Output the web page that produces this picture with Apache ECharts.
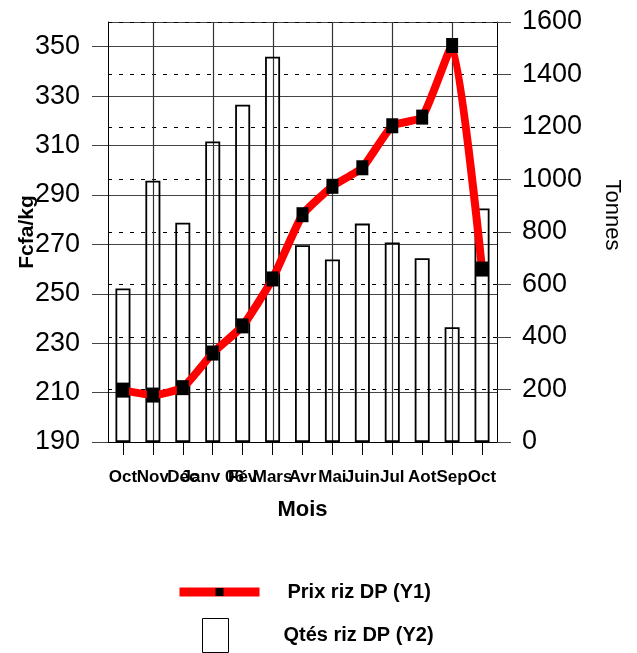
<!DOCTYPE html>
<html>
<head>
<meta charset="utf-8">
<script src="https://cdn.jsdelivr.net/npm/echarts@6/dist/echarts.min.js"></script>
<style>
  html, body { margin: 0; padding: 0; background: #fff; }
  #chart { width: 637px; height: 653px; }
</style>
</head>
<body>
<div id="chart"></div>
<script>
// Monthly rice prices (Fcfa/kg) and quantities (tonnes)
const months = ['Oct', 'Nov', 'Déc', 'Janv 06', 'Fév', 'Mars', 'Avr', 'Mai', 'Juin', 'Jul', 'Aot', 'Sep', 'Oct'];
const prixRiz = [211, 209, 212, 226, 237, 256, 282, 293.5, 301, 318, 321.5, 350.5, 260];
const qtesRiz = [585, 995, 835, 1145, 1285, 1468, 750, 695, 832, 760, 700, 437, 890];
const leftTicks = { min: 190, max: 360, step: 20 };
const rightTicks = { min: 0, max: 1600, step: 200 };
// vertical grid lines sit on every second month (category indices)
const gridMonthIdx = [1, 3, 5, 7, 9, 11];

const FONT = '"Liberation Sans", Arial, sans-serif';

const chart = echarts.init(document.getElementById('chart'), null, { renderer: 'canvas' });

chart.setOption({
  animation: false,
  backgroundColor: '#fff',
  textStyle: { fontFamily: FONT, color: '#000' },
  grid: { left: 108, right: 140, top: 22, bottom: 211, containLabel: false, outerBoundsMode: 'none' },
  legend: [
    {
      data: ['Prix riz DP (Y1)'],
      left: 175, top: 582, padding: 0,
      itemWidth: 80, itemHeight: 10,
      lineStyle: { width: 9, color: '#ff0000' },
      textStyle: { fontFamily: FONT, fontWeight: 'bold', fontSize: 20, color: '#000', padding: [0, 0, 0, 23] }
    },
    {
      data: [{ name: 'Qtés riz DP (Y2)', icon: 'rect' }],
      left: 202, top: 618, padding: 0,
      itemWidth: 26, itemHeight: 34,
      itemStyle: { color: 'rgba(0,0,0,0)', borderColor: '#000', borderWidth: 1 },
      textStyle: { fontFamily: FONT, fontWeight: 'bold', fontSize: 20, color: '#000', padding: [0, 0, 0, 50] }
    }
  ],
  xAxis: {
    type: 'category',
    data: months,
    boundaryGap: true,
    name: 'Mois',
    nameLocation: 'middle',
    nameGap: 57,
    nameMoveOverlap: false,
    nameTextStyle: { fontFamily: FONT, fontWeight: 'bold', fontSize: 22, color: '#000' },
    axisLine: { show: true, lineStyle: { color: '#000', width: 1 } },
    axisTick: { show: true, alignWithLabel: true, length: 13, lineStyle: { color: '#000' } },
    axisLabel: { interval: 0, margin: 27, fontFamily: FONT, fontWeight: 'bold', fontSize: 17, color: '#000', hideOverlap: false },
    splitLine: { show: false }
  },
  yAxis: [
    {
      type: 'value',
      min: leftTicks.min, max: leftTicks.max, interval: leftTicks.step,
      name: 'Fcfa/kg',
      nameLocation: 'middle',
      nameRotate: 90,
      nameGap: 70,
      nameMoveOverlap: false,
      nameTextStyle: { fontFamily: FONT, fontWeight: 'bold', fontSize: 21, color: '#000' },
      axisLine: { show: true, lineStyle: { color: '#000', width: 1 } },
      axisTick: { show: true, length: 16, lineStyle: { color: '#444' } },
      axisLabel: { margin: 28, fontFamily: FONT, fontSize: 27, color: '#000', showMaxLabel: false },
      splitLine: { show: true, lineStyle: { color: '#444', width: 1, type: 'solid' } }
    },
    {
      type: 'value',
      min: rightTicks.min, max: rightTicks.max, interval: rightTicks.step,
      name: 'Tonnes',
      nameLocation: 'middle',
      nameRotate: -90,
      nameGap: 104,
      nameMoveOverlap: false,
      nameTextStyle: { fontFamily: FONT, fontSize: 22, color: '#000', padding: [0, 34, 0, 0] },
      axisLine: { show: true, lineStyle: { color: '#000', width: 1 } },
      axisTick: { show: true, length: 14, lineStyle: { color: '#444' } },
      axisLabel: { margin: 25, fontFamily: FONT, fontSize: 27, color: '#000', formatter: function (v) { return String(v); } },
      splitLine: { show: true, lineStyle: { color: '#000', width: 1, type: [4, 7] } }
    }
  ],
  series: [
    {
      name: 'Qtés riz DP (Y2)',
      type: 'bar',
      yAxisIndex: 1,
      data: qtesRiz,
      barWidth: 15,
      itemStyle: { color: 'rgba(0,0,0,0)', borderColor: '#000', borderWidth: 1.8 },
      z: 2
    },
    {
      name: 'Prix riz DP (Y1)',
      type: 'line',
      yAxisIndex: 0,
      data: prixRiz,
      smooth: 0.15,
      symbol: 'rect',
      symbolSize: [12, 15],
      lineStyle: { color: '#ff0000', width: 8 },
      itemStyle: { color: '#000', borderWidth: 0 },
      z: 5
    }
  ]
});

// vertical month rules, positioned through the axes' own scales
const yTop = chart.convertToPixel({ yAxisIndex: 0 }, leftTicks.max);
const yBottom = chart.convertToPixel({ yAxisIndex: 0 }, leftTicks.min);
chart.setOption({
  graphic: gridMonthIdx.map(function (i) {
    const x = Math.round(chart.convertToPixel({ xAxisIndex: 0 }, i)) + 0.5;
    return {
      type: 'line',
      silent: true,
      z: 1,
      shape: { x1: x, y1: yTop, x2: x, y2: yBottom },
      style: { stroke: '#333', lineWidth: 1.2 }
    };
  })
});
</script>
</body>
</html>
